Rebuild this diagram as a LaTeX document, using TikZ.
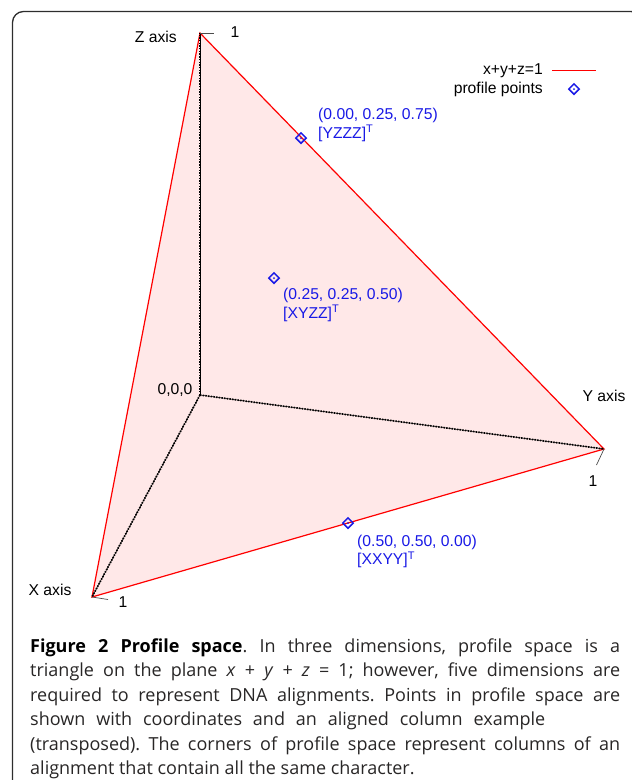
\documentclass[tikz,border=0pt]{standalone}
\usepackage{fontspec}
\setmainfont{Liberation Sans}
\newfontfamily\capfont{Open Sans}
\usetikzlibrary{shapes.geometric}
\definecolor{pinkfill}{RGB}{255,232,232}
\definecolor{ptblue}{RGB}{25,25,230}
\definecolor{framegray}{RGB}{45,45,45}
\definecolor{capgray}{RGB}{40,38,38}
\tikzset{
  edge/.style={red, line width=1.2pt},
  axisthin/.style={black, line width=0.5pt},
  axisdot/.style={black, line width=1.7pt, dash pattern=on 1.4pt off 1.3pt},
  tickline/.style={black!70, line width=0.7pt},
  lbl/.style={font=\fontsize{15.7}{18}\selectfont, inner sep=0pt},
  plbl/.style={lbl, text=ptblue, align=left, anchor=north west},
  marker/.style={diamond, draw=ptblue, line width=1.5pt, minimum size=11pt, inner sep=0pt,
    path picture={\fill[ptblue] (path picture bounding box.center) circle (1pt);}},
  capline/.style={anchor=base west, inner sep=0pt, text=capgray, font=\capfont\frenchspacing\fontsize{18}{22}\selectfont}
}
\begin{document}
\begin{tikzpicture}[x=1pt,y=-1pt]
\useasboundingbox (0,0) rectangle (632,780);
\clip (0,0) rectangle (632,780);
\draw[framegray, line width=1.3pt, rounded corners=11pt] (12.5,11.5) rectangle (642,800);

% vertices
\coordinate (O) at (200,395);
\coordinate (Z) at (200,33);
\coordinate (X) at (92,597);
\coordinate (Y) at (604,449);

\fill[pinkfill] (X) -- (Y) -- (Z) -- cycle;
\draw[edge] (X) -- (Y) -- (Z) -- cycle;

\draw[axisthin] (O) -- (Z);
\draw[axisthin] (O) -- (X);
\draw[axisthin] (O) -- (Y);
\draw[axisdot] (O) -- (Z);
\draw[axisdot] (O) -- (X);
\draw[axisdot] (O) -- (Y);

% ticks
\coordinate (Zt) at (214,33);
\coordinate (Xt) at (108,599.5);
\coordinate (Yt) at (596.5,465);
\draw[tickline] (Z) -- (Zt);
\draw[tickline] (X) -- (Xt);
\draw[tickline] (Y) -- (Yt);
\node[lbl] (z1) at (235,32) {1};
\node[lbl] (x1) at (123,602) {1};
\node[lbl] (y1) at (593,481) {1};

% axis labels
\node[lbl, anchor=east] (zlab) at (177,37) {Z axis};
\node[lbl] (olab) at (175,390) {0,0,0};
\node[lbl] (ylab) at (604,396) {Y axis};
\node[lbl] (xlab) at (50,590) {X axis};

% legend
\node[lbl, anchor=east] (leg1) at (543,70.5) {x+y+z=1};
\node[lbl, anchor=east] (leg2) at (543,89) {profile points};
\coordinate (la) at (552,70.5);
\coordinate (lb) at (596,70.5);
\draw[red, line width=1.2pt] (la) -- (lb);
\node[marker] (lm) at (574,89) {};

% profile points
\node[marker] (p1) at (301,138) {};
\node[marker] (p2) at (274,278) {};
\node[marker] (p3) at (348,523) {};
\node[plbl] (t1) at (318,108) {(0.00, 0.25, 0.75)\\[0.5pt][YZZZ]\textsuperscript{T}};
\node[plbl] (t2) at (283,288) {(0.25, 0.25, 0.50)\\[0.5pt][XYZZ]\textsuperscript{T}};
\node[plbl] (t3) at (357,534.5) {(0.50, 0.50, 0.00)\\[0.5pt][XXYY]\textsuperscript{T}};

% caption
\node[capline] (c1) at (30,652) {\makebox[590pt][s]{\textbf{\color{black}Figure 2 Profile space}. In three dimensions, profile space is a}};
\node[capline] (c2) at (30,676.5) {\makebox[590pt][s]{triangle on the plane \textit{x} + \textit{y} + \textit{z} = 1; however, five dimensions are}};
\node[capline] (c3) at (30,701) {\makebox[590pt][s]{required to represent DNA alignments. Points in profile space are}};
\node[capline] (c4) at (30,725.5) {\makebox[515pt][s]{shown with coordinates and an aligned column example}};
\node[capline] (c5) at (30,750) {\makebox[590pt][s]{(transposed). The corners of profile space represent columns of an}};
\node[capline] (c6) at (30,774) {alignment that contain all the same character.};
\end{tikzpicture}
\end{document}
